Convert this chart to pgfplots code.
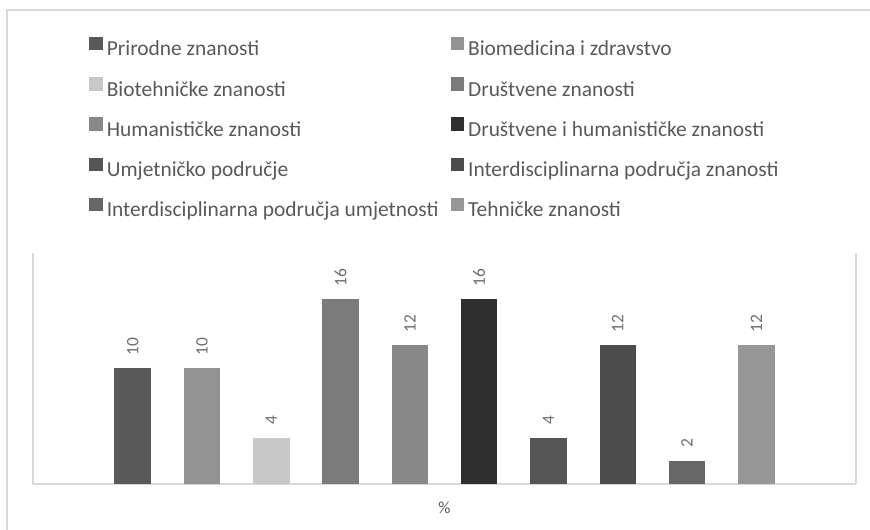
\documentclass[border=0pt]{standalone}
\usepackage{pgfplots}
\pgfplotsset{compat=1.18}
\usepackage{fontspec}
\setmainfont{Carlito}
\definecolor{c1}{HTML}{595959}
\definecolor{c2}{HTML}{939393}
\definecolor{c3}{HTML}{C8C8C8}
\definecolor{c4}{HTML}{7B7B7B}
\definecolor{c5}{HTML}{888888}
\definecolor{c6}{HTML}{2F2F2F}
\definecolor{c7}{HTML}{555555}
\definecolor{c8}{HTML}{4C4C4C}
\definecolor{c9}{HTML}{676767}
\definecolor{c10}{HTML}{969696}
\definecolor{framegray}{HTML}{D9D9D9}
\definecolor{txt}{HTML}{595959}
\definecolor{lbl}{HTML}{6E6E6E}
\begin{document}
\begin{tikzpicture}
\draw[framegray, line width=1.3bp] (7bp,-5bp) -- (7bp,520bp) -- (880bp,520bp);
\begin{axis}[
  at={(33bp,46bp)}, anchor=south west,
  scale only axis, width=823bp, height=231bp,
  xmin=-0.438, xmax=11.438, ymin=0, ymax=20,
  ybar, bar width=36.5bp,
  axis x line*=bottom, axis y line*=box,
  axis line style={framegray, line width=1.3bp},
  /pgf/number format/assume math mode=true,
  ytick=\empty, xtick={5.5}, xticklabels={\%}, major tick length=0pt,
  xticklabel style={anchor=center, yshift=-24bp, font=\fontsize{17}{20}\selectfont, text=txt},
  nodes near coords,
  every node near coord/.append style={rotate=90, anchor=west, inner xsep=13bp, inner ysep=0pt, font=\fontsize{17.5}{20}\selectfont, text=lbl},
  clip=false,
  legend image code/.code={\fill[#1] (0bp,0bp) rectangle (13.5bp,13.5bp);},
  legend columns=2,
  legend style={at={(0.0684,1.936)}, anchor=north west, draw=none, fill=none,
    inner sep=0pt, outer sep=0pt, row sep=16.3bp,
    font=\fontsize{21.5}{26}\selectfont, text=txt,
    nodes={inner xsep=0pt, inner ysep=0pt, text height=16bp, text depth=5bp},
    /tikz/every odd column/.append style={column sep=4bp},
    /tikz/every even column/.append style={column sep=12bp}},
  legend cell align=left,
]
\addplot[fill=c1, draw=none, bar shift=0pt] coordinates {(1,10)};
\addplot[fill=c2, draw=none, bar shift=0pt] coordinates {(2,10)};
\addplot[fill=c3, draw=none, bar shift=0pt] coordinates {(3,4)};
\addplot[fill=c4, draw=none, bar shift=0pt] coordinates {(4,16)};
\addplot[fill=c5, draw=none, bar shift=0pt] coordinates {(5,12)};
\addplot[fill=c6, draw=none, bar shift=0pt] coordinates {(6,16)};
\addplot[fill=c7, draw=none, bar shift=0pt] coordinates {(7,4)};
\addplot[fill=c8, draw=none, bar shift=0pt] coordinates {(8,12)};
\addplot[fill=c9, draw=none, bar shift=0pt] coordinates {(9,2)};
\addplot[fill=c10, draw=none, bar shift=0pt] coordinates {(10,12)};
\legend{Prirodne znanosti, Biomedicina i zdravstvo, Biotehničke znanosti, Društvene znanosti, Humanističke znanosti, Društvene i humanističke znanosti, Umjetničko područje, Interdisciplinarna područja znanosti, Interdisciplinarna područja umjetnosti, Tehničke znanosti}
\end{axis}
\pgfresetboundingbox
\useasboundingbox (0,0) rectangle (870bp,530bp);
\end{tikzpicture}
\end{document}
